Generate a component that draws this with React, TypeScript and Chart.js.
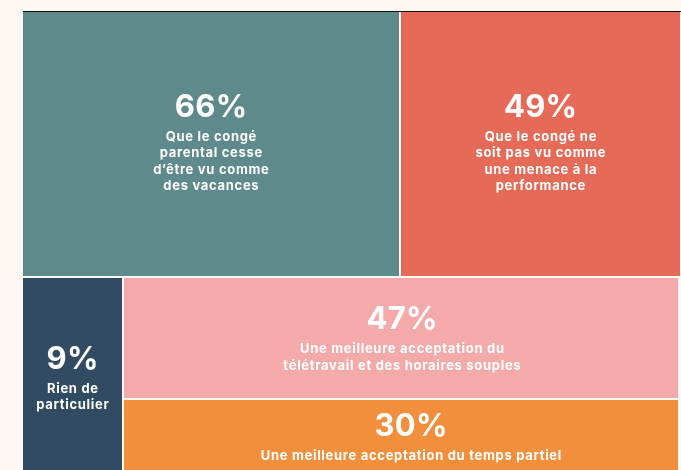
import React, { useEffect, useRef } from "react";
import { Chart, registerables } from "chart.js";

Chart.register(...registerables);

// ---- data ----
const CATEGORIES = ["parental", "performance", "particulier", "teletravail", "partiel"];
const VALUES = [66, 49, 9, 47, 30];
const VALUE_LABELS = ["66%", "49%", "9%", "47%", "30%"];
const DESCRIPTIONS: string[][] = [
  ["Que le congé", "parental cesse", "d’être vu comme", "des vacances"],
  ["Que le congé ne", "soit pas vu comme", "une menace à la", "performance"],
  ["Rien de", "particulier"],
  ["Une meilleure acceptation du", "télétravail et des horaires souples"],
  ["Une meilleure acceptation du temps partiel"],
];
const COLORS = ["#5f8a8b", "#e66a58", "#314c62", "#f4aaa8", "#f28f3d"];

// ---- layout constants (not data) ----
const BG = "#fdf8f4";
const TOP_ROW_SHARE = 58; // y units of 100
const BOTTOM_EXTENT = 101.3; // bottom row runs slightly past the visible frame
const LEFT_COL_SHARE = 0.1533; // of total width
const TEXT_SHIFT_X = [0, 0, 0, 0, 9];
const TEXT_SHIFT_Y = [-2, -2, 1, 0, -1];
const FONT = "Inter, 'Noto Sans', sans-serif";

type R = { x0: number; x1: number; y0: number; y1: number };

function layout(): R[] {
  const total = VALUES[0] + VALUES[1];
  const r: R[] = [];
  r[0] = { x0: 0, x1: VALUES[0], y0: 0, y1: TOP_ROW_SHARE };
  r[1] = { x0: VALUES[0], x1: total, y0: 0, y1: TOP_ROW_SHARE };
  const colX = total * LEFT_COL_SHARE;
  r[2] = { x0: 0, x1: colX, y0: TOP_ROW_SHARE, y1: BOTTOM_EXTENT };
  const h = BOTTOM_EXTENT - TOP_ROW_SHARE;
  const split = TOP_ROW_SHARE + (h * VALUES[3]) / (VALUES[3] + VALUES[4]);
  r[3] = { x0: colX, x1: total, y0: TOP_ROW_SHARE, y1: split };
  r[4] = { x0: colX, x1: total, y0: split, y1: BOTTOM_EXTENT };
  return r;
}

const RECTS = layout();

function drawSpaced(ctx: any, text: string, cx: number, y: number, spacing: number) {
  ctx.letterSpacing = `${spacing}px`;
  const w = ctx.measureText(text).width - spacing;
  ctx.textAlign = "left";
  ctx.fillText(text, cx - w / 2, y);
  ctx.letterSpacing = "0px";
}

const blocksPlugin = {
  id: "treemapBlocks",
  afterDatasetsDraw(chart: any) {
    const { ctx, chartArea: a, scales } = chart;
    const xs = scales.x;
    const ys = scales.y;
    ctx.save();
    ctx.beginPath();
    ctx.rect(a.left, a.top, a.right - a.left, a.bottom - a.top);
    ctx.clip();
    RECTS.forEach((r, i) => {
      const px0 = Math.round(xs.getPixelForValue(r.x0));
      const px1 = Math.round(xs.getPixelForValue(r.x1));
      const py0 = Math.round(ys.getPixelForValue(r.y0));
      const py1 = Math.round(ys.getPixelForValue(r.y1));
      const rightInset = i >= 3 ? 2 : 0;
      ctx.fillStyle = COLORS[i];
      ctx.fillRect(px0 + 1, py0 + 1, px1 - px0 - 2 - rightInset, py1 - py0 - 2);

      const cx = (px0 + px1) / 2 + TEXT_SHIFT_X[i];
      const cy = (py0 + py1) / 2 + TEXT_SHIFT_Y[i];
      const lines = DESCRIPTIONS[i];
      const numH = 23;
      const gap = 24;
      const lh = 16.5;
      const H = numH + gap + (lines.length - 1) * lh;
      const top = cy - H / 2;
      ctx.fillStyle = "#ffffff";
      ctx.textBaseline = "alphabetic";
      ctx.font = `700 31px ${FONT}`;
      drawSpaced(ctx, VALUE_LABELS[i], cx, top + numH, 0.3);
      ctx.font = `700 13px ${FONT}`;
      lines.forEach((ln, j) => {
        drawSpaced(ctx, ln, cx, top + numH + gap + j * lh, 0.7);
      });
    });
    ctx.restore();
    // top rule
    ctx.save();
    ctx.fillStyle = "#111111";
    ctx.fillRect(Math.round(a.left) + 1, Math.round(a.top), Math.round(a.right - a.left), 1);
    ctx.restore();
  },
};

export default function App() {
  const ref = useRef<HTMLCanvasElement | null>(null);
  useEffect(() => {
    if (!ref.current) return;
    const chart = new Chart(ref.current, {
      type: "scatter",
      data: {
        labels: CATEGORIES,
        datasets: [
          {
            label: "réponses",
            data: RECTS.map((r) => ({ x: (r.x0 + r.x1) / 2, y: (r.y0 + r.y1) / 2 })),
            pointRadius: 0,
            pointHoverRadius: 0,
          },
        ],
      },
      options: {
        responsive: false,
        animation: false,
        devicePixelRatio: 1,
        layout: { padding: { left: 22, top: 11, right: 0, bottom: 0 } },
        scales: {
          x: { type: "linear", display: false, min: 0, max: VALUES[0] + VALUES[1] },
          y: { type: "linear", display: false, min: 0, max: 100, reverse: true },
        },
        plugins: { legend: { display: false }, tooltip: { enabled: false } },
        events: [],
      },
      plugins: [blocksPlugin],
    });
    return () => chart.destroy();
  }, []);
  return (
    <div
      style={{
        position: "fixed",
        left: 0,
        top: 0,
        width: 681,
        height: 470,
        background: BG,
        overflow: "hidden",
      }}
    >
      <canvas ref={ref} width={681} height={470} style={{ display: "block", width: 681, height: 470 }} />
    </div>
  );
}
